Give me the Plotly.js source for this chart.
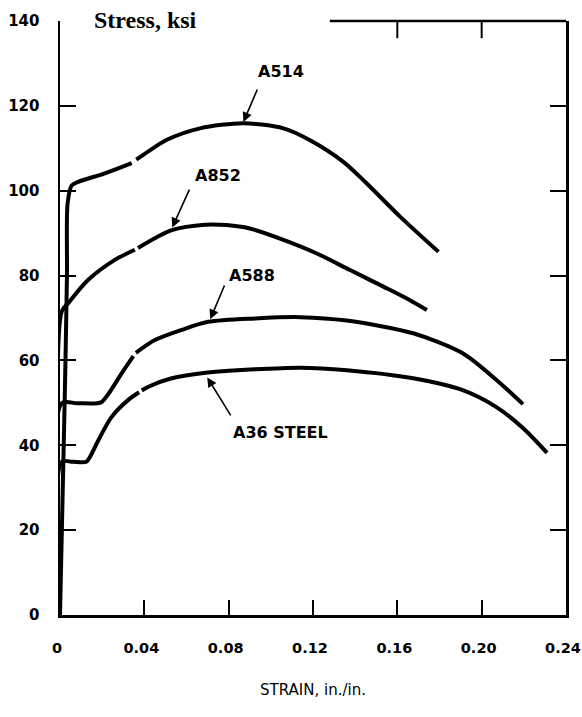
<!DOCTYPE html>
<html>
<head>
<meta charset="utf-8">
<script src="https://cdn.plot.ly/plotly-3.0.1.min.js"></script>
<style>
html,body{margin:0;padding:0;background:#fff;}
#chart{width:582px;height:717px;}
</style>
</head>
<body>
<div id="chart"></div>
<script>
// ---- data (strain in./in., stress ksi) ----
const a514Strain = [0, 0.0022, 0.0033, 0.0036, 0.0055, 0.0087, 0.0213, 0.034, null, 0.0362, 0.0417, 0.0507, 0.0664, 0.087, 0.106, 0.1186, 0.1344, 0.1455, 0.1613, 0.1795];
const a514Stress = [0, 50, 80, 97, 101.2, 102.1, 104.1, 106.5, null, 107.3, 109.2, 112, 114.7, 115.9, 114.7, 111.9, 106.8, 101.7, 93.9, 85.6];

const a852Strain = [0, 0.0008, 0.0039, 0.0134, 0.026, 0.0355, null, 0.0370, 0.053, 0.0688, 0.079, 0.090, 0.106, 0.1218, 0.1376, 0.1534, 0.166, 0.174];
const a852Stress = [0, 71.5, 73.5, 79.0, 83.7, 86.1, null, 86.5, 90.7, 92.0, 91.9, 91.1, 88.4, 85.2, 81.3, 77.4, 74.2, 71.9];

const a588Strain = [0, 0.0008, 0.008, 0.0175, 0.0198, 0.0235, 0.0293, 0.0348, null, 0.0360, 0.045, 0.0577, 0.0703, 0.0925, 0.114, 0.136, 0.1675, 0.191, 0.207, 0.2196];
const a588Stress = [0, 49.9, 49.9, 49.9, 50.2, 52.5, 57.0, 61.0, null, 61.8, 64.8, 67.2, 69.1, 69.9, 70.2, 69.4, 66.4, 61.7, 55.4, 49.7];

const a36Strain = [0, 0.0008, 0.006, 0.0125, 0.0145, 0.0182, 0.0245, 0.0324, 0.0375, null, 0.0388, 0.0419, 0.053, 0.0672, 0.0925, 0.114, 0.136, 0.1675, 0.191, 0.207, 0.2197, 0.231];
const a36Stress = [0, 36.1, 36.1, 36.1, 37.5, 41.2, 46.7, 50.7, 52.5, null, 52.9, 53.8, 55.8, 57.0, 57.9, 58.3, 57.7, 55.8, 53.0, 49.0, 44.0, 38.2];

const seriesNames = ['A514', 'A852', 'A588', 'A36 STEEL'];

const xTickVals = [0, 0.04, 0.08, 0.12, 0.16, 0.20, 0.24];
const xTickText = ['0', '0.04', '0.08', '0.12', '0.16', '0.20', '0.24'];
const topTickVals = [0.16, 0.20];
const yTickVals = [0, 20, 40, 60, 80, 100, 120, 140];

// label anchor points (text centre) and arrow head/tail, in data units
const labelPos = [[0.1048, 128.0], [0.0749, 103.7], [0.0911, 80.1], [0.1044, 43.1]];
const arrowHead = [[0.0868, 116.0], [0.053, 91.1], [0.0711, 69.5], [0.0696, 56.2]];
const arrowTail = [[0.0939, 124.2], [0.0617, 100.6], [0.0783, 78.0], [0.0814, 46.7]];

// ---- build ----
const curves = [[a514Strain, a514Stress], [a852Strain, a852Stress], [a588Strain, a588Stress], [a36Strain, a36Stress]];
const traces = curves.map((c, i) => ({
  type: 'scatter', mode: 'lines', name: seriesNames[i],
  x: c[0], y: c[1], connectgaps: false,
  line: {color: '#000', width: 4, shape: 'spline', smoothing: 0.8},
  hoverinfo: 'x+y+name'
}));

const labelFont = {family: 'DejaVu Sans', size: 16, color: '#000', weight: 'bold'};
const annotations = [];
seriesNames.forEach((n, i) => {
  annotations.push({xref: 'x', yref: 'y', x: labelPos[i][0], y: labelPos[i][1], text: n, showarrow: false, font: labelFont, xanchor: 'center', yanchor: 'middle'});
  annotations.push({xref: 'x', yref: 'y', axref: 'x', ayref: 'y', x: arrowHead[i][0], y: arrowHead[i][1], ax: arrowTail[i][0], ay: arrowTail[i][1], text: '', showarrow: true, arrowhead: 2, arrowsize: 1.2, arrowwidth: 1.6, arrowcolor: '#000', standoff: 1});
});
annotations.push({xref: 'paper', yref: 'paper', x: 0.063, y: 1.002, xanchor: 'left', yanchor: 'middle', text: 'Stress, ksi', showarrow: false, font: {family: 'Liberation Serif', size: 24, color: '#000', weight: 'bold'}});

// partial top border with its two inward ticks
const shapes = [
  {type: 'line', xref: 'x', yref: 'paper', x0: 0.128, x1: 0.24, y0: 1, y1: 1, line: {color: '#000', width: 2.5}}
];
topTickVals.forEach(v => shapes.push({type: 'line', xref: 'x', yref: 'paper', x0: v, x1: v, y0: 1, y1: 0.971, line: {color: '#000', width: 2}}));

const yTickFont = {family: 'DejaVu Sans', size: 15, color: '#000', weight: 'bold'};
const xTickFont = {family: 'DejaVu Sans', size: 14.5, color: '#000', weight: 'bold'};
const layout = {
  width: 582, height: 717,
  margin: {l: 60, r: 16, t: 21, b: 102},
  paper_bgcolor: '#fff', plot_bgcolor: '#fff',
  showlegend: false,
  font: {family: 'DejaVu Sans', color: '#000'},
  xaxis: {
    range: [0, 0.24], tickvals: xTickVals, ticktext: xTickText, automargin: false,
    ticks: 'inside', ticklen: 15, tickwidth: 2, tickcolor: '#000',
    showline: true, linewidth: 2.5, linecolor: '#000', showgrid: false, zeroline: false,
    tickfont: xTickFont, ticklabeloverflow: 'allow',
    ticklabelstandoff: 18, ticklabelshift: -3,
    title: {text: 'STRAIN, in./in.', font: {family: 'DejaVu Sans', size: 15, color: '#000'}, standoff: 30}
  },
  yaxis: {
    range: [0, 140], tickvals: yTickVals, automargin: false,
    ticks: 'inside', ticklen: 16, tickwidth: 2, tickcolor: '#000',
    showline: true, linewidth: 2.5, linecolor: '#000', mirror: 'ticks',
    showgrid: false, zeroline: false,
    tickfont: yTickFont,
    ticklabelstandoff: 15
  },
  shapes: shapes,
  annotations: annotations
};

Plotly.newPlot('chart', traces, layout, {displayModeBar: false, staticPlot: true});
</script>
</body>
</html>
